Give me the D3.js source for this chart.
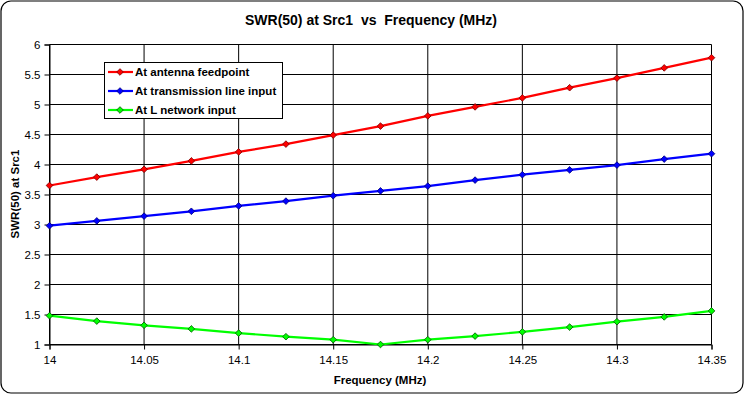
<!DOCTYPE html>
<html><head><meta charset="utf-8">
<script src="https://cdn.jsdelivr.net/npm/d3@7"></script>
<style>body{margin:0;background:#fff}svg{display:block}text{font-family:"Liberation Sans",Arial,sans-serif;white-space:pre}</style>
</head><body><svg id="c" width="745" height="395"></svg>
<script>
const freqs = [14, 14.025, 14.05, 14.075, 14.1, 14.125, 14.15, 14.175, 14.2, 14.225, 14.25, 14.275, 14.3, 14.325, 14.35];
const antenna = [3.65, 3.79, 3.92, 4.06, 4.21, 4.34, 4.49, 4.64, 4.81, 4.96, 5.11, 5.28, 5.44, 5.61, 5.78];
const lineInput = [2.98, 3.06, 3.14, 3.22, 3.31, 3.39, 3.48, 3.56, 3.64, 3.74, 3.83, 3.91, 3.99, 4.09, 4.18];
const lNetwork = [1.48, 1.39, 1.32, 1.26, 1.19, 1.13, 1.08, 1.00, 1.08, 1.14, 1.21, 1.29, 1.38, 1.46, 1.56];
const seriesNames = ["At antenna feedpoint", "At transmission line input", "At L network input"];
const xTicks = [14, 14.05, 14.1, 14.15, 14.2, 14.25, 14.3, 14.35];
const yTicks = [1, 1.5, 2, 2.5, 3, 3.5, 4, 4.5, 5, 5.5, 6];
const titleText = "SWR(50) at Src1  vs  Frequency (MHz)";
const xTitle = "Frequency (MHz)";
const yTitle = "SWR(50) at Src1";

const colors = ["#ff0000", "#0000ff", "#00ff00"];
const strokes = ["#800000", "#000080", "#006000"];
const series = [antenna, lineInput, lNetwork];

const svg = d3.select("#c");
svg.append("rect").attr("x", 1).attr("y", 1).attr("width", 742).attr("height", 392)
  .attr("rx", 10).attr("fill", "#fff").attr("stroke", "#000").attr("stroke-width", 1.2);

const x = d3.scaleLinear().domain([14, 14.35]).range([49.5, 711.5]);
const y = d3.scaleLinear().domain([1, 6]).range([344.5, 44.5]);

const g = svg.append("g");
g.selectAll(".hg").data(yTicks).join("line")
  .attr("x1", x(14)).attr("x2", x(14.35)).attr("y1", d => y(d)).attr("y2", d => y(d))
  .attr("stroke", "#000").attr("stroke-width", 1);
g.selectAll(".vg").data(xTicks).join("line")
  .attr("x1", d => x(d)).attr("x2", d => x(d)).attr("y1", y(6)).attr("y2", y(1))
  .attr("stroke", "#000").attr("stroke-width", 1);

const xAxis = svg.append("g").attr("transform", `translate(0,${y(1)})`)
  .call(d3.axisBottom(x).tickValues(xTicks).tickFormat(d => String(+d.toFixed(2))).tickSize(5).tickPadding(6));
const yAxis = svg.append("g").attr("transform", `translate(${x(14)},0)`)
  .call(d3.axisLeft(y).tickValues(yTicks).tickFormat(d => String(d)).tickSize(5).tickPadding(4));
[xAxis, yAxis].forEach(a => {
  a.select(".domain").attr("stroke", "#000");
  a.selectAll("line").attr("stroke", "#000");
  a.selectAll("text").attr("font-size", 11.5).attr("fill", "#000").style("font-family", "'Liberation Sans',Arial,sans-serif");
});

const line = d3.line().x((d, i) => x(freqs[i])).y(d => y(d));
series.forEach((s, k) => {
  svg.append("path").attr("d", line(s)).attr("fill", "none").attr("stroke", colors[k]).attr("stroke-width", 2.2);
});
const marker = d3.symbol().type(d3.symbolSquare).size(22);
series.forEach((s, k) => {
  svg.append("g").selectAll("path").data(s).join("path")
    .attr("d", marker)
    .attr("transform", (d, i) => `translate(${x(freqs[i])},${y(d)}) rotate(45)`)
    .attr("fill", colors[k]).attr("stroke", strokes[k]).attr("stroke-width", 0.8);
});

svg.append("text").attr("x", 371).attr("y", 25).attr("text-anchor", "middle")
  .attr("font-size", 14).attr("font-weight", "bold").text(titleText);
svg.append("text").attr("x", 380).attr("y", 384).attr("text-anchor", "middle")
  .attr("font-size", 11.5).attr("font-weight", "bold").text(xTitle);
svg.append("text").attr("transform", "translate(19,194) rotate(-90)").attr("text-anchor", "middle")
  .attr("font-size", 11.5).attr("font-weight", "bold").text(yTitle);

const lg = svg.append("g");
lg.append("rect").attr("x", 104.5).attr("y", 62.5).attr("width", 178).attr("height", 56)
  .attr("fill", "#fff").attr("stroke", "#000").attr("stroke-width", 1);
seriesNames.forEach((n, k) => {
  const yy = 72 + k * 19;
  lg.append("line").attr("x1", 108).attr("x2", 133).attr("y1", yy).attr("y2", yy)
    .attr("stroke", colors[k]).attr("stroke-width", 2.2);
  lg.append("path").attr("d", marker).attr("transform", `translate(120,${yy}) rotate(45)`)
    .attr("fill", colors[k]).attr("stroke", strokes[k]).attr("stroke-width", 0.8);
  lg.append("text").attr("x", 135).attr("y", yy + 4).attr("font-size", 11.5).attr("font-weight", "bold").text(n);
});
</script></body></html>
